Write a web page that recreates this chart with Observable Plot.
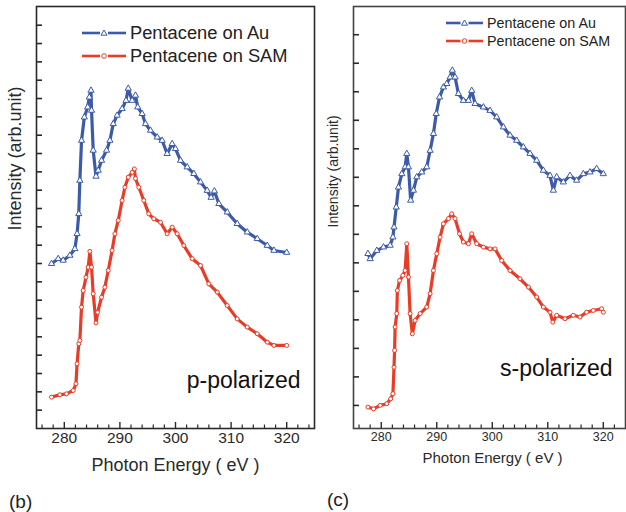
<!DOCTYPE html>
<html><head><meta charset="utf-8">
<script src="https://cdn.jsdelivr.net/npm/d3@7"></script>
<script src="https://cdn.jsdelivr.net/npm/@observablehq/plot@0.6"></script>
<style>
body{margin:0;background:#fff;font-family:"Liberation Sans",Arial,sans-serif;}
#wrap{position:relative;width:626px;height:512px;overflow:hidden;background:#fff}
.panel{position:absolute;top:0}
.lbl{position:absolute;color:#222;line-height:1}
.leg{position:absolute;display:flex;align-items:center;color:#222;white-space:nowrap}
.leg svg{display:block}
</style></head><body><div id="wrap"></div>
<script>
// ---- data ----
const xLabels = [280, 290, 300, 310, 320];
const xMinor = [276, 278, 282, 284, 286, 288, 292, 294, 296, 298, 302, 304, 306, 308, 312, 314, 316, 318, 322, 324];
const yTicksP = [1,2,3,4,5,6,7,8,9,10,11,12,13,14,15,16,17,18,19,20,21,22];
const yTicksS = [1,2,3,4,5,6,7,8,9,10,11,12,13,14];
const seriesNames = ["Pentacene on Au", "Pentacene on SAM"];

// p-polarized, Pentacene on Au
const pAuE = [277.7,278.9,279.8,281.0,281.9,282.3,282.6,282.8,283.1,283.6,284.2,284.5,284.8,284.9,285.2,285.7,286.1,286.7,287.6,288.2,288.8,289.5,290.4,291.1,291.5,292.2,292.8,293.2,294.0,294.6,295.5,296.7,297.6,298.5,299.4,300.0,300.9,302.1,303.3,304.5,305.7,306.4,307.0,307.8,309.3,311.1,312.9,314.7,316.5,317.7,320.0];
const pAuI = [8.99,9.26,9.17,9.44,9.80,10.62,11.71,13.53,15.71,16.98,17.53,18.07,18.44,17.35,15.17,13.75,14.08,14.62,15.17,15.71,16.62,17.08,17.44,17.89,18.55,17.89,18.17,17.53,17.17,16.62,16.26,15.89,15.71,14.99,15.53,15.26,14.62,14.26,13.90,13.44,12.98,12.60,12.95,12.26,11.80,11.17,10.71,10.35,9.98,9.71,9.60];
// p-polarized, Pentacene on SAM
const pSamE = [277.7,279.2,280.4,281.6,282.1,282.3,282.6,282.8,283.1,283.4,283.9,284.3,284.6,284.9,285.2,285.7,286.0,286.7,287.3,287.9,288.6,289.1,289.7,290.4,290.9,291.5,292.2,292.6,292.8,293.4,294.3,295.2,296.1,297.3,298.5,299.4,300.3,301.5,303.0,304.5,306.0,307.5,309.3,311.1,312.9,314.7,316.5,317.7,320.0];
const pSamI = [1.71,1.84,1.89,2.07,2.44,3.53,4.62,4.80,6.62,7.53,8.25,8.80,9.66,8.80,7.35,5.76,6.34,7.16,7.71,8.62,9.71,10.62,11.35,12.44,13.16,13.71,13.97,14.16,13.64,13.16,12.44,11.71,11.44,11.25,10.62,10.98,10.62,9.98,9.26,8.89,7.89,7.44,6.71,5.98,5.53,5.17,4.71,4.53,4.53];
// s-polarized, Pentacene on Au
const sAuE = [277.6,278.0,279.2,280.4,281.6,282.1,282.3,282.7,283.1,283.7,284.3,284.6,284.9,285.3,285.8,286.4,287.3,288.2,288.8,289.4,289.9,290.5,291.2,291.8,292.4,292.8,293.3,293.9,294.8,295.7,296.3,296.9,298.4,299.6,300.8,302.0,303.2,304.4,305.6,306.8,308.0,309.2,310.4,311.0,311.6,312.8,314.0,315.2,316.4,317.6,318.8,320.0];
const sAuI = [6.32,6.14,6.43,6.55,6.61,6.90,7.25,7.95,8.65,9.12,9.36,9.83,9.36,8.19,8.54,9.01,9.18,9.36,9.94,10.53,11.23,11.81,12.16,12.28,12.51,12.75,12.51,11.93,11.69,11.69,12.04,11.58,11.46,11.34,11.11,10.76,10.47,10.29,10.06,9.83,9.59,9.24,9.06,8.54,9.01,8.83,9.06,8.89,9.12,9.18,9.30,9.12];
// s-polarized, Pentacene on SAM
const sSamE = [277.6,278.6,279.8,281.0,281.7,282.1,282.3,282.4,282.5,282.8,282.9,283.3,283.9,284.3,284.6,284.9,285.2,285.6,286.1,287.0,288.2,288.8,289.4,290.0,290.6,291.2,292.1,292.7,293.3,294.1,294.8,295.7,296.3,297.2,298.4,299.6,300.5,301.7,303.2,305.0,306.5,308.0,309.2,310.4,310.9,311.6,313.1,314.6,315.8,317.0,318.2,319.7,320.0];
const sSamI = [0.94,0.88,1.00,1.06,1.23,1.41,2.34,2.93,3.75,4.22,5.03,5.38,5.56,5.73,6.67,5.50,4.22,3.51,3.98,4.22,4.45,4.92,5.73,6.32,6.90,7.37,7.55,7.72,7.55,7.02,6.73,6.67,7.02,6.67,6.55,6.49,6.49,6.08,5.73,5.44,5.15,4.80,4.45,4.27,3.92,4.16,4.04,4.16,4.10,4.27,4.33,4.39,4.27];

// ---- drawing ----
const BLUE = "#3b5aa8", RED = "#ea3b26", INK = "#2a2a2a";
const FONT = "'Liberation Sans', Arial, sans-serif";
const zip = (E, I) => E.map((e, i) => ({e, v: I[i]}));

function panel(o) {
  const H = 480, mt = 6, mb = 52;
  const fw = o.width - o.ml - o.mr, fh = H - mt - mb;
  const au = zip(o.auE, o.auI), sam = zip(o.samE, o.samI);
  return Plot.plot({
    width: o.width, height: H,
    marginLeft: o.ml, marginRight: o.mr, marginTop: mt, marginBottom: mb,
    x: {domain: o.xDomain, axis: null},
    y: {domain: o.yDomain, axis: null},
    style: {fontFamily: FONT, color: INK, background: "transparent", overflow: "visible"},
    marks: [
      Plot.frame({stroke: o.frameColor, strokeWidth: 1.6}),
      Plot.tickX(xMinor.filter(d => d > o.xDomain[0] && d < o.xDomain[1]), {x: d => d, insetTop: fh - 3.5, stroke: INK, strokeWidth: 1.2}),
      Plot.tickX(xLabels, {x: d => d, insetTop: fh - 6, stroke: INK, strokeWidth: 1.4}),
      Plot.tickY(o.yTicks, {y: d => d, insetRight: fw - 6, stroke: INK, strokeWidth: 1.6}),
      Plot.text(xLabels, {x: d => d, text: d => String(d), frameAnchor: "bottom", dy: o.tickDy, fontSize: o.tickFs, fill: INK}),
      Plot.text(["Photon Energy ( eV )"], {text: d => d, frameAnchor: "bottom", dx: o.titleDx, dy: o.titleDy, fontSize: o.titleFs, fill: INK}),
      Plot.text(["Intensity (arb.unit)"], {text: d => d, frameAnchor: "left", rotate: -90, dx: o.yTitleDx, dy: o.yTitleDy, fontSize: o.yTitleFs, fill: INK}),
      Plot.line(au, {x: "e", y: "v", stroke: BLUE, strokeWidth: 3.2, strokeLinejoin: "round"}),
      Plot.dot(au, {x: "e", y: "v", symbol: "triangle", r: 2.3, stroke: BLUE, fill: "white", strokeWidth: 1}),
      Plot.line(sam, {x: "e", y: "v", stroke: RED, strokeWidth: 3.2, strokeLinejoin: "round"}),
      Plot.dot(sam, {x: "e", y: "v", symbol: "circle", r: 2, stroke: RED, fill: "white", strokeWidth: 1}),
      Plot.text([o.pol], {text: d => d, frameAnchor: "bottom-right", textAnchor: "end", lineAnchor: "bottom", dx: o.polDx, dy: o.polDy, fontSize: 23, fill: "#111"})
    ]
  });
}

const wrap = document.getElementById("wrap");

const left = panel({
  width: 320, ml: 36, mr: 6, xDomain: [275, 325], yDomain: [0, 23.02], yTicks: yTicksP, frameColor: INK,
  auE: pAuE, auI: pAuI, samE: pSamE, samI: pSamI,
  tickDy: 14, tickFs: 15.5, titleDx: 0, titleDy: 42, titleFs: 18,
  yTitleDx: -21, yTitleDy: 13, yTitleFs: 18, pol: "p-polarized", polDx: -14, polDy: -41
});
left.classList.add("panel"); left.style.left = "0px";
wrap.appendChild(left);

const right = panel({
  width: 306, ml: 33, mr: 1, xDomain: [275, 324], yDomain: [0.19, 14.99], yTicks: yTicksS, frameColor: "#444",
  auE: sAuE, auI: sAuI, samE: sSamE, samI: sSamI,
  tickDy: 12, tickFs: 12.5, titleDx: 3, titleDy: 34, titleFs: 15,
  yTitleDx: -20, yTitleDy: 10, yTitleFs: 14, pol: "s-polarized", polDx: -13, polDy: -53
});
right.classList.add("panel"); right.style.left = "320px";
wrap.appendChild(right);

// legends
function legendItem(x, yc, h, sw, fs, name, color, symbol) {
  const div = document.createElement("div");
  div.className = "leg";
  div.style.left = x + "px"; div.style.top = (yc - h / 2) + "px"; div.style.height = h + "px";
  div.style.fontSize = fs + "px";
  const m = sw / 2, c = h / 2;
  const mark = symbol === "triangle"
    ? `<path d="M${m},${c - 3} L${m + 3},${c + 2.2} L${m - 3},${c + 2.2} Z" fill="white" stroke="${color}" stroke-width="1"/>`
    : `<circle cx="${m}" cy="${c}" r="2.3" fill="white" stroke="${color}" stroke-width="1"/>`;
  div.innerHTML = `<svg width="${sw}" height="${h}"><line x1="0" x2="${m - 4}" y1="${c}" y2="${c}" stroke="${color}" stroke-width="2.6"/><line x1="${m + 4}" x2="${sw}" y1="${c}" y2="${c}" stroke="${color}" stroke-width="2.6"/>${mark}</svg><span style="margin-left:4px">${name}</span>`;
  wrap.appendChild(div);
}
legendItem(82, 33, 20, 44, 18.3, seriesNames[0], BLUE, "triangle");
legendItem(82, 56, 20, 44, 18.3, seriesNames[1], RED, "circle");
legendItem(446, 22.7, 16, 37, 14.3, seriesNames[0], BLUE, "triangle");
legendItem(446, 40.7, 16, 37, 14.3, seriesNames[1], RED, "circle");

// panel letters
function letter(x, y, t) {
  const d = document.createElement("div");
  d.className = "lbl"; d.style.left = x + "px"; d.style.top = y + "px"; d.style.fontSize = "19px";
  d.textContent = t; wrap.appendChild(d);
}
letter(9, 492, "(b)");
letter(327, 490, "(c)");
</script>
</body></html>
